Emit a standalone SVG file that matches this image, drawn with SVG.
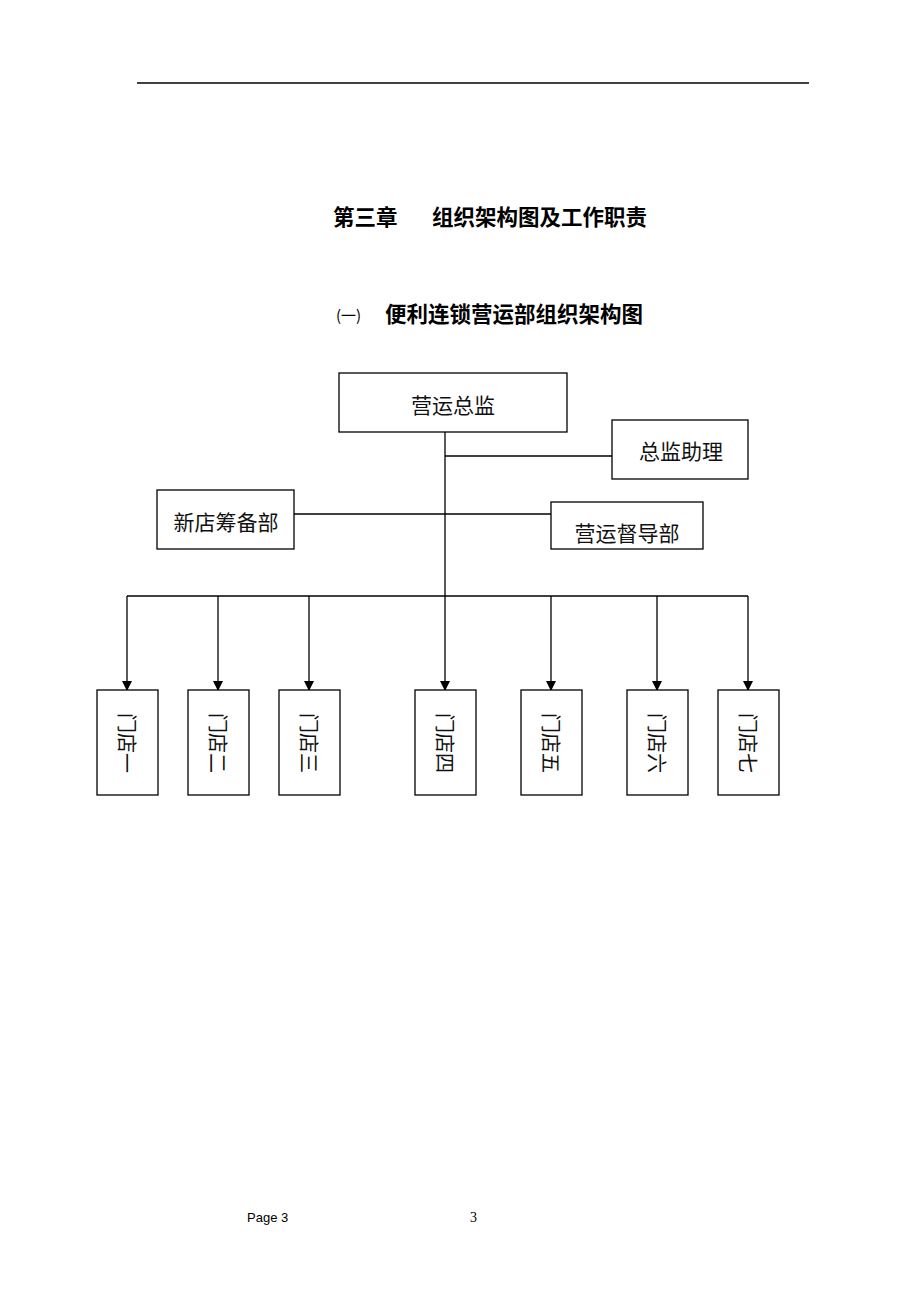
<svg xmlns="http://www.w3.org/2000/svg" width="920" height="1302" viewBox="0 0 920 1302">
<defs>
<style>
.box{fill:#fff;stroke:#000;stroke-width:1.3}
.ln{stroke:#000;stroke-width:1.3;fill:none}
.t{font-family:"Noto Sans CJK SC",sans-serif;font-size:21px;fill:#111;text-anchor:middle;dominant-baseline:central}
.s{font-family:"Noto Sans CJK SC",sans-serif;font-size:20px;fill:#111;text-anchor:middle;dominant-baseline:central}
.h{font-family:"Noto Sans CJK SC",sans-serif;font-size:21.5px;font-weight:bold;fill:#000}
</style>
<marker id="ar" markerWidth="10" markerHeight="10" refX="9" refY="5" orient="auto" markerUnits="userSpaceOnUse">
<path d="M0,0 L10,5 L0,10 Z" fill="#000"/>
</marker>
</defs>
<rect width="920" height="1302" fill="#fff"/>
<line x1="137" y1="83" x2="809" y2="83" stroke="#000" stroke-width="1.3"/>
<text class="h" x="333" y="225">第三章</text>
<text class="h" x="432" y="225">组织架构图及工作职责</text>
<text x="336" y="321" font-family="Noto Sans CJK SC,sans-serif" font-size="15" fill="#000">(一)</text>
<text class="h" x="385" y="322">便利连锁营运部组织架构图</text>
<g id="connectors">
<line class="ln" x1="445" y1="432" x2="445" y2="690" marker-end="url(#ar)"/>
<line class="ln" x1="445" y1="456" x2="612" y2="456"/>
<line class="ln" x1="294" y1="514" x2="551" y2="514"/>
<line class="ln" x1="127" y1="596" x2="748" y2="596"/>
<line class="ln" x1="127" y1="596" x2="127" y2="690" marker-end="url(#ar)"/>
<line class="ln" x1="218" y1="596" x2="218" y2="690" marker-end="url(#ar)"/>
<line class="ln" x1="309" y1="596" x2="309" y2="690" marker-end="url(#ar)"/>
<line class="ln" x1="551" y1="596" x2="551" y2="690" marker-end="url(#ar)"/>
<line class="ln" x1="657" y1="596" x2="657" y2="690" marker-end="url(#ar)"/>
<line class="ln" x1="748" y1="596" x2="748" y2="690" marker-end="url(#ar)"/>
</g>
<g id="n-director"><rect class="box" x="339" y="373" width="228" height="59"/><text class="t" x="453" y="404">营运总监</text></g>
<g id="n-assistant"><rect class="box" x="612" y="420" width="136" height="59"/><text class="t" x="681" y="450">总监助理</text></g>
<g id="n-newstore"><rect class="box" x="157" y="490" width="137" height="59"/><text class="t" x="226" y="521">新店筹备部</text></g>
<g id="n-supervise"><rect class="box" x="551" y="502" width="152" height="47"/><text class="t" x="627" y="532">营运督导部</text></g>
<g id="s1"><rect class="box" x="97" y="690" width="61" height="105"/><text class="s" transform="translate(127.5,743) rotate(90)">门店一</text></g>
<g id="s2"><rect class="box" x="188" y="690" width="61" height="105"/><text class="s" transform="translate(218.5,743) rotate(90)">门店二</text></g>
<g id="s3"><rect class="box" x="279" y="690" width="61" height="105"/><text class="s" transform="translate(309.5,743) rotate(90)">门店三</text></g>
<g id="s4"><rect class="box" x="415" y="690" width="61" height="105"/><text class="s" transform="translate(445.5,743) rotate(90)">门店四</text></g>
<g id="s5"><rect class="box" x="521" y="690" width="61" height="105"/><text class="s" transform="translate(551.5,743) rotate(90)">门店五</text></g>
<g id="s6"><rect class="box" x="627" y="690" width="61" height="105"/><text class="s" transform="translate(657.5,743) rotate(90)">门店六</text></g>
<g id="s7"><rect class="box" x="718" y="690" width="61" height="105"/><text class="s" transform="translate(748.5,743) rotate(90)">门店七</text></g>
<text x="247" y="1222" font-family="Liberation Sans,sans-serif" font-size="13" fill="#000">Page 3</text>
<text x="470" y="1222" font-family="Liberation Serif,serif" font-size="14" fill="#000">3</text>
</svg>
